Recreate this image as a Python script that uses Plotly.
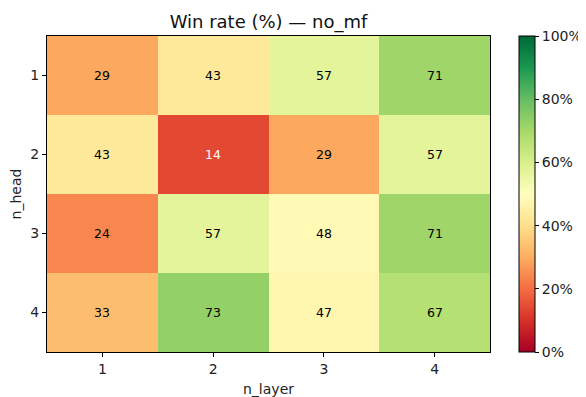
import plotly.graph_objects as go

n_layer = [1, 2, 3, 4]
n_head = [1, 2, 3, 4]
win_rate = [
    [29, 43, 57, 71],
    [43, 14, 29, 57],
    [24, 57, 48, 71],
    [33, 73, 47, 67],
]
title = "Win rate (%) — no_mf"

rdylgn = ["#a50026", "#d73027", "#f46d43", "#fdae61", "#fee08b", "#ffffbf",
          "#d9ef8b", "#a6d96a", "#66bd63", "#1a9850", "#006837"]
colorscale = [[i / 10, c] for i, c in enumerate(rdylgn)]

fig = go.Figure()
fig.add_trace(go.Heatmap(
    z=win_rate, x=n_layer, y=n_head, zmin=0, zmax=100,
    colorscale=colorscale, xgap=0, ygap=0,
    colorbar=dict(
        thickness=16, len=1, lenmode="fraction", x=1.065, xanchor="left",
        y=0.5, yanchor="middle", outlinewidth=1, outlinecolor="black",
        xpad=0, ypad=0,
        tickvals=[0, 20, 40, 60, 80, 100],
        ticktext=["0%", "20%", "40%", "60%", "80%", "100%"],
        ticks="outside", ticklen=4, tickcolor="black",
        tickfont=dict(size=14, color="#222"),
    ),
))

for i, row in enumerate(win_rate):
    for j, v in enumerate(row):
        fig.add_annotation(
            x=n_layer[j], y=n_head[i], text=str(v), showarrow=False,
            font=dict(size=12.5, color="white" if (v < 20 or v > 80) else "black"),
        )

fig.update_layout(
    width=586, height=397,
    margin=dict(l=39, r=104, t=28, b=53, autoexpand=False),
    paper_bgcolor="white", plot_bgcolor="white",
    font=dict(family="DejaVu Sans", color="#222"),
    title=dict(text=title, x=0.5, xref="paper", xanchor="center",
               y=1 - 14 / 397, yanchor="middle", font=dict(size=18, color="#111")),
    xaxis=dict(
        title=dict(text="n_layer", font=dict(size=14), standoff=8),
        tickvals=n_layer, ticks="outside", ticklen=4, tickcolor="black",
        tickfont=dict(size=14), showline=True, linecolor="black", linewidth=1,
        mirror=True, showgrid=False, zeroline=False, range=[0.5, 4.5],
        automargin=False,
    ),
    yaxis=dict(
        title=dict(text="n_head", font=dict(size=14), standoff=9),
        tickvals=n_head, ticks="outside", ticklen=4, tickcolor="black",
        tickfont=dict(size=14), showline=True, linecolor="black", linewidth=1,
        mirror=True, showgrid=False, zeroline=False, range=[4.5, 0.5],
        automargin=False,
    ),
)

fig.write_html("out.html")
